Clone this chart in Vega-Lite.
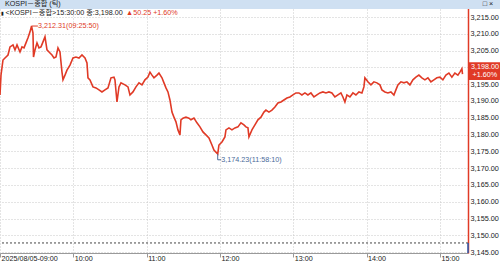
{
 "$schema": "https://vega.github.io/schema/vega-lite/v6.json",
 "width": 468,
 "height": 253,
 "autosize": {"type": "none"},
 "padding": {"left": 0, "top": 0, "right": 32, "bottom": 9},
 "background": "#ffffff",
 "config": {"view": {"stroke": null}, "font": "Liberation Sans, Noto Sans CJK KR, sans-serif", "axis": {"labelOverlap": false, "labelFlush": false}},
 "layer": [
  {
   "data": {"format": {"parse": {"t": "utc:'%H:%M:%S'"}}, "values": [
    {"t":"09:00:00","p":3191.8},{"t":"09:00:49","p":3197.7},{"t":"09:02:27","p":3202.2},{"t":"09:04:05","p":3202.8},{"t":"09:06:33","p":3203.7},{"t":"09:08:11","p":3206.1},{"t":"09:10:38","p":3206.7},{"t":"09:12:16","p":3205.2},{"t":"09:13:55","p":3206.7},{"t":"09:16:22","p":3204.6},{"t":"09:18:00","p":3206.1},{"t":"09:19:38","p":3205.8},{"t":"09:21:16","p":3207.3},{"t":"09:22:55","p":3208.8},{"t":"09:24:30","p":3210.5},{"t":"09:25:50","p":3212.31},{"t":"09:27:00","p":3210.2},{"t":"09:27:25","p":3203.1},{"t":"09:28:38","p":3205.2},{"t":"09:30:16","p":3207.3},{"t":"09:31:55","p":3205.8},{"t":"09:33:33","p":3206.1},{"t":"09:35:11","p":3207.6},{"t":"09:36:49","p":3209.1},{"t":"09:38:27","p":3205.2},{"t":"09:40:55","p":3204.3},{"t":"09:42:33","p":3203.7},{"t":"09:44:11","p":3202.8},{"t":"09:45:49","p":3203.1},{"t":"09:47:27","p":3205.8},{"t":"09:49:05","p":3204.6},{"t":"09:50:44","p":3198.6},{"t":"09:51:33","p":3196.3},{"t":"09:53:11","p":3197.7},{"t":"09:54:49","p":3199.2},{"t":"09:57:16","p":3200.7},{"t":"09:59:44","p":3202.8},{"t":"10:02:11","p":3203.1},{"t":"10:04:38","p":3202.8},{"t":"10:07:05","p":3203.7},{"t":"10:09:33","p":3202.8},{"t":"10:11:11","p":3201.3},{"t":"10:12:00","p":3196.9},{"t":"10:13:38","p":3196.3},{"t":"10:16:05","p":3194.2},{"t":"10:18:33","p":3193.9},{"t":"10:21:00","p":3193.3},{"t":"10:23:27","p":3192.7},{"t":"10:25:55","p":3193.3},{"t":"10:28:22","p":3193.9},{"t":"10:30:49","p":3196.9},{"t":"10:33:16","p":3197.1},{"t":"10:34:05","p":3196.3},{"t":"10:35:44","p":3189.7},{"t":"10:37:22","p":3194.2},{"t":"10:39:00","p":3195.4},{"t":"10:42:16","p":3194.8},{"t":"10:44:44","p":3194.2},{"t":"10:46:22","p":3191.8},{"t":"10:48:49","p":3192.7},{"t":"10:51:16","p":3194.2},{"t":"10:53:44","p":3195.4},{"t":"10:56:11","p":3194.8},{"t":"10:58:38","p":3196.3},{"t":"11:01:05","p":3197.1},{"t":"11:02:44","p":3198.6},{"t":"11:04:22","p":3197.7},{"t":"11:06:00","p":3196.9},{"t":"11:08:27","p":3197.7},{"t":"11:10:05","p":3198.3},{"t":"11:12:33","p":3196.9},{"t":"11:14:11","p":3195.4},{"t":"11:15:49","p":3193.9},{"t":"11:17:27","p":3192.7},{"t":"11:19:05","p":3190.3},{"t":"11:20:44","p":3186.7},{"t":"11:22:22","p":3185.2},{"t":"11:24:00","p":3183.8},{"t":"11:25:38","p":3181.4},{"t":"11:27:16","p":3179.9},{"t":"11:28:05","p":3184.4},{"t":"11:29:44","p":3184.9},{"t":"11:32:11","p":3185.2},{"t":"11:34:38","p":3184.9},{"t":"11:36:16","p":3184.4},{"t":"11:38:44","p":3184.9},{"t":"11:41:11","p":3183.5},{"t":"11:43:38","p":3182.3},{"t":"11:46:05","p":3180.8},{"t":"11:48:33","p":3179.9},{"t":"11:51:00","p":3179.0},{"t":"11:53:27","p":3176.9},{"t":"11:55:05","p":3175.4},{"t":"11:58:10","p":3174.23},{"t":"11:59:11","p":3176.9},{"t":"12:01:38","p":3177.8},{"t":"12:04:05","p":3179.3},{"t":"12:04:55","p":3181.4},{"t":"12:07:22","p":3182.0},{"t":"12:09:49","p":3181.4},{"t":"12:12:16","p":3182.0},{"t":"12:14:44","p":3182.3},{"t":"12:17:11","p":3183.5},{"t":"12:19:38","p":3182.9},{"t":"12:21:16","p":3182.3},{"t":"12:22:55","p":3182.0},{"t":"12:23:44","p":3179.3},{"t":"12:26:11","p":3181.4},{"t":"12:28:38","p":3182.9},{"t":"12:31:05","p":3184.4},{"t":"12:33:33","p":3185.2},{"t":"12:36:00","p":3186.7},{"t":"12:37:38","p":3187.3},{"t":"12:40:05","p":3186.7},{"t":"12:42:33","p":3187.3},{"t":"12:45:00","p":3188.2},{"t":"12:47:27","p":3189.4},{"t":"12:49:55","p":3189.7},{"t":"12:52:22","p":3190.3},{"t":"12:54:49","p":3190.9},{"t":"12:57:16","p":3191.2},{"t":"12:59:44","p":3191.8},{"t":"13:02:11","p":3192.4},{"t":"13:04:38","p":3192.4},{"t":"13:07:05","p":3191.8},{"t":"13:09:33","p":3192.4},{"t":"13:12:00","p":3191.8},{"t":"13:14:27","p":3192.4},{"t":"13:16:55","p":3191.2},{"t":"13:19:22","p":3191.8},{"t":"13:21:49","p":3192.4},{"t":"13:24:16","p":3192.7},{"t":"13:26:44","p":3192.4},{"t":"13:29:11","p":3192.7},{"t":"13:31:38","p":3192.4},{"t":"13:34:05","p":3191.2},{"t":"13:36:33","p":3191.8},{"t":"13:39:00","p":3192.4},{"t":"13:40:38","p":3191.2},{"t":"13:42:16","p":3189.7},{"t":"13:43:55","p":3191.8},{"t":"13:46:22","p":3191.2},{"t":"13:48:49","p":3192.4},{"t":"13:51:16","p":3191.8},{"t":"13:53:44","p":3192.7},{"t":"13:56:11","p":3192.4},{"t":"13:57:49","p":3194.2},{"t":"13:58:38","p":3196.9},{"t":"14:01:05","p":3195.7},{"t":"14:03:33","p":3194.8},{"t":"14:06:00","p":3195.7},{"t":"14:08:27","p":3195.4},{"t":"14:10:55","p":3194.8},{"t":"14:12:33","p":3193.3},{"t":"14:15:00","p":3192.7},{"t":"14:17:27","p":3192.4},{"t":"14:19:55","p":3192.7},{"t":"14:22:22","p":3191.8},{"t":"14:24:00","p":3193.3},{"t":"14:25:38","p":3194.8},{"t":"14:28:05","p":3195.7},{"t":"14:30:33","p":3195.4},{"t":"14:33:00","p":3195.7},{"t":"14:35:27","p":3194.8},{"t":"14:37:55","p":3196.3},{"t":"14:40:22","p":3197.1},{"t":"14:42:49","p":3197.7},{"t":"14:45:16","p":3196.9},{"t":"14:47:44","p":3196.3},{"t":"14:50:11","p":3196.9},{"t":"14:52:38","p":3195.7},{"t":"14:55:05","p":3196.3},{"t":"14:57:33","p":3196.9},{"t":"15:00:00","p":3197.1},{"t":"15:02:27","p":3196.3},{"t":"15:04:55","p":3197.7},{"t":"15:07:22","p":3198.3},{"t":"15:09:49","p":3197.1},{"t":"15:12:16","p":3198.3},{"t":"15:14:44","p":3197.7},{"t":"15:16:22","p":3198.6},{"t":"15:18:00","p":3199.6},{"t":"15:18:30","p":3198.0}
   ]},
   "mark": {"type": "line", "color": "#e03a26", "strokeWidth": 1.6},
   "encoding": {
    "x": {"field": "t", "type": "temporal",
     "scale": {"type": "utc", "domain": [{"year": 1900, "month": 1, "date": 1, "hours": 9, "utc": true}, {"year": 1900, "month": 1, "date": 1, "hours": 15, "minutes": 23, "utc": true}]},
     "axis": {"title": null, "tickCount": 30, "values": [
       {"year": 1900, "month": 1, "date": 1, "hours": 9, "utc": true},
       {"year": 1900, "month": 1, "date": 1, "hours": 10, "utc": true},
       {"year": 1900, "month": 1, "date": 1, "hours": 11, "utc": true},
       {"year": 1900, "month": 1, "date": 1, "hours": 12, "utc": true},
       {"year": 1900, "month": 1, "date": 1, "hours": 13, "utc": true},
       {"year": 1900, "month": 1, "date": 1, "hours": 14, "utc": true},
       {"year": 1900, "month": 1, "date": 1, "hours": 15, "utc": true}],
      "labelExpr": "utchours(datum.value) == 9 ? '2025/08/05-09:00' : utcFormat(datum.value, '%H:%M')",
      "labelAlign": "left", "labelBaseline": "top", "labelPadding": -3, "labelOffset": 1,
      "labelFlush": false, "labelOverlap": false, "labelFontSize": 7.2, "labelColor": "#222222",
      "domainColor": "#9a9a9a", "tickColor": "#9a9a9a", "tickSize": 4,
      "grid": true, "gridColor": "#c8c8c8", "gridDash": [1, 2]}},
    "y": {"field": "p", "type": "quantitative",
     "scale": {"domain": [3144.76, 3220.06], "nice": false, "zero": false},
     "axis": {"title": null, "orient": "right", "tickCount": 30, "values": [3145,3150,3155,3160,3165,3170,3175,3180,3185,3190,3195,3200,3205,3210,3215],
      "labelExpr": "datum.value == 3200 ? '' : format(datum.value, ',.2f')",
      "ticks": false, "labelPadding": 2, "labelFontSize": 7.3, "labelColor": "#222222",
      "labelAlign": "left", "labelBaseline": "middle", "labelOverlap": false,
      "domainColor": "#e03a26", "domainWidth": 1.5,
      "grid": true, "gridColor": "#c8c8c8", "gridDash": [1, 2]}}
   }
  },
  {
   "data": {"values": [{"p": 3147.75}]},
   "mark": {"type": "rule", "color": "#444444", "strokeDash": [2, 2], "strokeWidth": 1},
   "encoding": {"y": {"field": "p", "type": "quantitative"}}
  },
  {
   "data": {"format": {"parse": {"t": "utc:'%H:%M:%S'", "t2": "utc:'%H:%M:%S'"}}, "values": [
    {"t": "09:25:50", "t2": "09:31:00", "p": 3212.31, "p2": 3212.31}
   ]},
   "mark": {"type": "rule", "color": "#e03a26", "strokeWidth": 1},
   "encoding": {
    "x": {"field": "t", "type": "temporal"}, "x2": {"field": "t2"},
    "y": {"field": "p", "type": "quantitative"}, "y2": {"field": "p2"}
   }
  },
  {
   "data": {"format": {"parse": {"t": "utc:'%H:%M:%S'", "t2": "utc:'%H:%M:%S'"}}, "values": [
    {"t": "11:58:10", "t2": "11:58:10", "p": 3174.23, "p2": 3172.5},
    {"t": "11:58:10", "t2": "12:01:00", "p": 3172.5, "p2": 3172.5}
   ]},
   "mark": {"type": "rule", "color": "#4a6a9a", "strokeWidth": 1},
   "encoding": {
    "x": {"field": "t", "type": "temporal"}, "x2": {"field": "t2"},
    "y": {"field": "p", "type": "quantitative"}, "y2": {"field": "p2"}
   }
  },
  {
   "data": {"format": {"parse": {"t": "utc:'%H:%M:%S'"}}, "values": [
    {"t": "09:31:10", "p": 3212.31, "label": "3,212.31(09:25:50)"},
    {"t": "10:43:10", "p": 3216.19, "label": "▲50.25 +1.60%"}
   ]},
   "mark": {"type": "text", "color": "#e03a26", "align": "left", "baseline": "middle", "fontSize": 7.2},
   "encoding": {
    "x": {"field": "t", "type": "temporal"},
    "y": {"field": "p", "type": "quantitative"},
    "text": {"field": "label"}
   }
  },
  {
   "data": {"format": {"parse": {"t": "utc:'%H:%M:%S'"}}, "values": [
    {"t": "12:01:10", "p": 3172.5, "label": "3,174.23(11:58:10)"}
   ]},
   "mark": {"type": "text", "color": "#4a6a9a", "align": "left", "baseline": "middle", "fontSize": 7.2},
   "encoding": {
    "x": {"field": "t", "type": "temporal"},
    "y": {"field": "p", "type": "quantitative"},
    "text": {"field": "label"}
   }
  },
  {
   "data": {"format": {"parse": {"t": "utc:'%H:%M:%S'", "t2": "utc:'%H:%M:%S'"}}, "values": [
    {"t": "09:00:00", "t2": "15:51:00", "p": 3217.38, "p2": 3220.06}
   ]},
   "mark": {"type": "rect", "color": "#cfe0f2"},
   "encoding": {
    "x": {"field": "t", "type": "temporal"}, "x2": {"field": "t2"},
    "y": {"field": "p", "type": "quantitative"}, "y2": {"field": "p2"}
   }
  },
  {
   "data": {"format": {"parse": {"t": "utc:'%H:%M:%S'"}}, "values": [
    {"t": "09:04:05", "p": 3218.8, "label": "KOSPI－종합 (틱)"},
    {"t": "09:04:30", "p": 3216.19, "label": "<KOSPI－종합>15:30:00 종:3,198.00"},
    {"t": "15:35:00", "p": 3218.8, "label": "□ ×"}
   ]},
   "mark": {"type": "text", "color": "#1a1a1a", "align": "left", "baseline": "middle", "fontSize": 7.2},
   "encoding": {
    "x": {"field": "t", "type": "temporal"},
    "y": {"field": "p", "type": "quantitative"},
    "text": {"field": "label"}
   }
  },
  {
   "data": {"format": {"parse": {"t": "utc:'%H:%M:%S'"}}, "values": [
    {"t": "09:01:00", "p": 3216.19, "label": "▮"}
   ]},
   "mark": {"type": "text", "color": "#1a1a1a", "align": "left", "baseline": "middle", "fontSize": 5},
   "encoding": {
    "x": {"field": "t", "type": "temporal"},
    "y": {"field": "p", "type": "quantitative"},
    "text": {"field": "label"}
   }
  },
  {
   "data": {"format": {"parse": {"t": "utc:'%H:%M:%S'", "t2": "utc:'%H:%M:%S'"}}, "values": [
    {"t": "15:23:00", "t2": "15:51:00", "p": 3196.25, "p2": 3201.5}
   ]},
   "mark": {"type": "rect", "color": "#e03a26"},
   "encoding": {
    "x": {"field": "t", "type": "temporal"}, "x2": {"field": "t2"},
    "y": {"field": "p", "type": "quantitative"}, "y2": {"field": "p2"}
   }
  },
  {
   "data": {"format": {"parse": {"t": "utc:'%H:%M:%S'"}}, "values": [
    {"t": "15:36:50", "p": 3200.1, "label": "3,198.00"},
    {"t": "15:36:50", "p": 3197.6, "label": "+1.60%"}
   ]},
   "mark": {"type": "text", "color": "#ffffff", "align": "center", "baseline": "middle", "fontSize": 7.2},
   "encoding": {
    "x": {"field": "t", "type": "temporal"},
    "y": {"field": "p", "type": "quantitative"},
    "text": {"field": "label"}
   }
  },
  {
   "data": {"format": {"parse": {"t": "utc:'%H:%M:%S'", "t2": "utc:'%H:%M:%S'"}}, "values": [
    {"t": "15:23:00", "t2": "15:23:00", "p": 3144.76, "p2": 3147.75}
   ]},
   "mark": {"type": "rule", "color": "#2a5db0", "strokeWidth": 1.5},
   "encoding": {
    "x": {"field": "t", "type": "temporal"}, "x2": {"field": "t2"},
    "y": {"field": "p", "type": "quantitative"}, "y2": {"field": "p2"}
   }
  }
 ]
}
